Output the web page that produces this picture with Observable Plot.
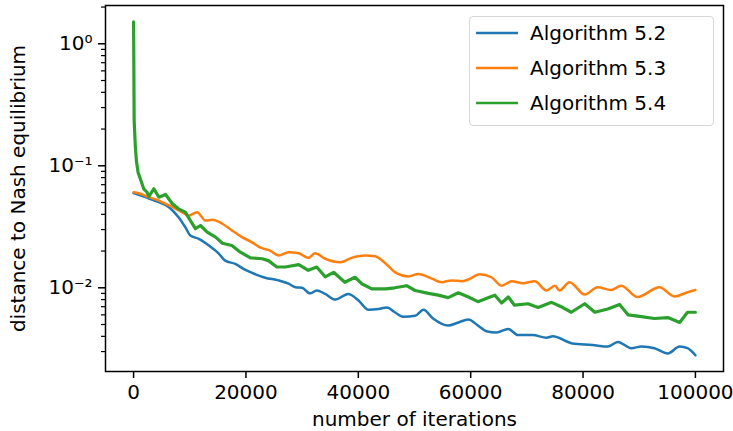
<!DOCTYPE html>
<html>
<head>
<meta charset="utf-8">
<script src="https://cdn.jsdelivr.net/npm/d3@7"></script>
<script src="https://cdn.jsdelivr.net/npm/@observablehq/plot@0.6"></script>
<style>
  body { margin: 0; background: white; }
  #wrap { position: relative; width: 733px; height: 431px; font-family: "DejaVu Sans", sans-serif; }
  #legend { position: absolute; left: 469px; top: 16px; width: 243px; height: 108px;
    border: 1px solid #d6d6d6; border-radius: 4px; background: rgba(255,255,255,0.8); }
  .row { position: absolute; left: 0; height: 30px; display: flex; align-items: center; font-size: 20px; color: #000; }
  .row svg { margin-left: 6px; margin-right: 12px; }
</style>
</head>
<body>
<div id="wrap"><div id="chart"></div><div id="legend"></div></div>
<script>
const seriesNames = ["Algorithm 5.2", "Algorithm 5.3", "Algorithm 5.4"];
const seriesColors = ["#1f77b4", "#ff7f0e", "#2ca02c"];

const itersA52 = [0,2100,4500,6300,8000,9200,10100,11600,13400,15200,16300,18100,19900,21700,23400,25800,27600,28800,30000,31400,32600,34100,35900,38200,40000,41800,43600,45100,46500,48000,50100,51600,53300,56000,57800,59600,61300,62800,64600,66700,68400,71000,73500,74600,78100,81700,84400,86200,88600,90400,92700,95100,97200,98600,100000];
const valuesA52 = [0.0598,0.0553,0.0503,0.0458,0.0379,0.0314,0.0268,0.0252,0.0222,0.0190,0.0167,0.0157,0.0140,0.0129,0.0121,0.0115,0.0108,0.0101,0.0100,0.0090,0.0095,0.0089,0.0080,0.0089,0.0079,0.0066,0.0067,0.0069,0.0063,0.0058,0.0059,0.0066,0.0056,0.0049,0.0052,0.0055,0.0049,0.0044,0.0043,0.0046,0.0041,0.0041,0.0039,0.0040,0.0035,0.0034,0.0033,0.0036,0.0032,0.0033,0.0032,0.0029,0.0033,0.0032,0.0028];

const itersA53 = [0,900,2700,4500,6300,8600,9800,11300,12800,14000,15800,17500,19300,21100,22600,24300,25800,27600,29400,31100,32300,34100,36800,38800,41200,43000,44800,46800,48900,50700,53100,54800,56600,58400,59600,61600,63700,65500,67300,69300,71400,73500,75000,75800,77600,80300,82600,85000,86800,89700,93600,96300,98600,100000];
const valuesA53 = [0.0607,0.0596,0.0553,0.0519,0.0473,0.0417,0.0391,0.0417,0.0356,0.0361,0.0335,0.0295,0.0260,0.0236,0.0213,0.0202,0.0184,0.0196,0.0192,0.0176,0.0192,0.0173,0.0162,0.0176,0.0184,0.0181,0.0159,0.0132,0.0124,0.0130,0.0119,0.0111,0.0115,0.0113,0.0117,0.0129,0.0122,0.0104,0.0113,0.0109,0.0113,0.0095,0.0104,0.0095,0.0111,0.0088,0.0101,0.0096,0.0104,0.0084,0.0101,0.0085,0.0092,0.0096];

const itersA54 = [0,100,300,500,800,1300,1800,2400,2700,3600,4500,5700,6900,8000,9200,10100,11000,11900,13100,14600,15800,17500,19000,20800,22900,24000,25500,27000,29400,31100,32600,34100,35600,37600,39400,40600,42400,44800,46500,48600,50100,52500,54200,56000,57800,59600,61300,63100,64300,65500,66700,67800,70200,72000,74400,76100,77900,80300,82100,84400,86500,88000,90400,92700,95100,97200,98600,100000];
const valuesA54 = [1.51,0.235,0.147,0.110,0.088,0.0758,0.0648,0.0607,0.0560,0.0648,0.0553,0.0582,0.0488,0.0444,0.0417,0.0356,0.0305,0.0324,0.0286,0.0260,0.0232,0.0222,0.0196,0.0176,0.0173,0.0167,0.0148,0.0148,0.0155,0.0139,0.0148,0.0123,0.0134,0.0111,0.0122,0.0108,0.0098,0.0098,0.0100,0.0104,0.0095,0.0090,0.0087,0.0083,0.0091,0.0084,0.0077,0.0083,0.0087,0.0075,0.0084,0.0072,0.0074,0.0069,0.0076,0.0070,0.0063,0.0074,0.0063,0.0067,0.0073,0.0060,0.0058,0.0056,0.0057,0.0052,0.0063,0.0063];

const xTicks = [0, 20000, 40000, 60000, 80000, 100000];
const yTicks = [0.01, 0.1, 1];
const yTickLabels = ["10\u207B\u00B2", "10\u207B\u00B9", "10\u2070"];
const yMinorTicks = [0.003,0.004,0.005,0.006,0.007,0.008,0.009,0.02,0.03,0.04,0.05,0.06,0.07,0.08,0.09,0.2,0.3,0.4,0.5,0.6,0.7,0.8,0.9,2];

const xLabel = "number of iterations";
const yLabel = "distance to Nash equilibrium";

const iters = [itersA52, itersA53, itersA54];
const vals = [valuesA52, valuesA53, valuesA54];
const table = seriesNames.map((name, i) => iters[i].map((t, j) => ({series: name, iter: t, value: vals[i][j]})));

const chart = Plot.plot({
  width: 733, height: 431,
  marginLeft: 105, marginRight: 10, marginTop: 5, marginBottom: 60,
  style: {fontFamily: "DejaVu Sans", fontSize: "20px", color: "black", background: "white"},
  x: {type: "linear", domain: [-5000, 105000]},
  y: {type: "log", domain: [0.00206, 2.06]},
  marks: [
    Plot.axisX({ticks: xTicks, tickFormat: d => String(d), tickSize: 7, tickPadding: 6, strokeWidth: 1.5, fontSize: 20,
      label: xLabel, labelAnchor: "center", labelArrow: "none", labelOffset: 54}),
    Plot.axisY({ticks: yTicks, tickFormat: d => yTickLabels[yTicks.indexOf(d)], tickSize: 7, tickPadding: 6, strokeWidth: 1.5, fontSize: 20,
      label: yLabel, labelAnchor: "center", labelArrow: "none", labelOffset: 95}),
    Plot.axisY({ticks: yMinorTicks, tickFormat: () => "", tickSize: 4, strokeWidth: 1.2, label: null}),
    ...table.map((d, i) => Plot.line(d, {x: "iter", y: "value", stroke: seriesColors[i],
      strokeWidth: i === 2 ? 3.2 : 2.5, curve: i === 2 ? "linear" : "monotone-x"})),
    Plot.frame({stroke: "black", strokeWidth: 1.5})
  ]
});
document.getElementById("chart").appendChild(chart);

const legend = document.getElementById("legend");
seriesNames.forEach((name, i) => {
  const row = document.createElement("div");
  row.className = "row";
  row.style.top = (1 + i * 35) + "px";
  row.innerHTML = `<svg width="42" height="6"><line x1="0" y1="3" x2="42" y2="3" stroke="${seriesColors[i]}" stroke-width="2.6"/></svg><span>${name}</span>`;
  legend.appendChild(row);
});
</script>
</body>
</html>
